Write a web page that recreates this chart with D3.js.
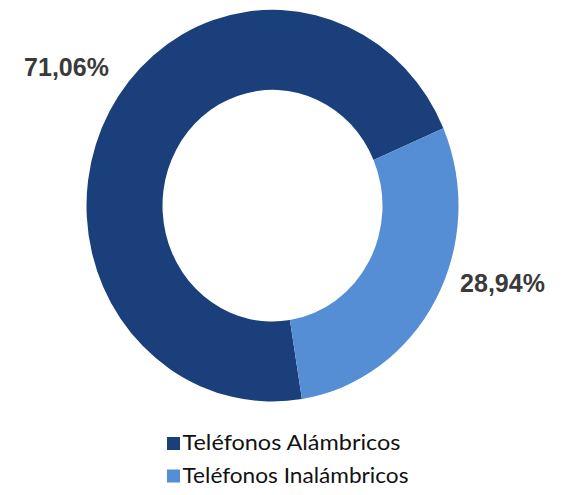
<!DOCTYPE html>
<html><head><meta charset="utf-8">
<script src="https://cdn.jsdelivr.net/npm/d3@7"></script>
<style>html,body{margin:0;padding:0;background:#fff;}</style>
</head><body>
<svg id="c" width="563" height="495"></svg>
<script>
const categories = ["Teléfonos Alámbricos", "Teléfonos Inalámbricos"];
const values = [71.06, 28.94];
const labels = ["71,06%", "28,94%"];
const colors = ["#1B3F7A", "#558ED5"];

const svg = d3.select("#c");
const cx = 272.5, cy = 205.7, R = 186, r = 110, sy = 1.053;
const start = 170.9 * Math.PI / 180;

const pie = d3.pie().sort(null).value(d => d).startAngle(start).endAngle(start + 2 * Math.PI);
const arc = d3.arc().innerRadius(r).outerRadius(R);
const color = d3.scaleOrdinal().domain(categories).range(colors);

const g = svg.append("g").attr("transform", `translate(${cx},${cy}) scale(1,${sy})`);
g.selectAll("path").data(pie(values)).join("path")
  .attr("d", arc)
  .attr("fill", (d, i) => color(categories[i]));

// data labels
const labelPos = [[66.5, 76], [502.5, 291.7]];
svg.selectAll("text.lbl").data(labels).join("text")
  .attr("class", "lbl")
  .attr("x", (d, i) => labelPos[i][0])
  .attr("y", (d, i) => labelPos[i][1])
  .attr("text-anchor", "middle")
  .attr("font-family", "Liberation Sans, Arial, sans-serif")
  .attr("font-weight", "bold")
  .attr("font-size", 25)
  .attr("fill", "#3a3a3a")
  .text(d => d);

// legend
const leg = svg.append("g");
const rows = leg.selectAll("g").data(categories).join("g")
  .attr("transform", (d, i) => `translate(167,${437 + i * 32.5})`);
rows.append("rect").attr("width", 13).attr("height", 13).attr("fill", d => color(d));
rows.append("text")
  .attr("x", 15.5).attr("y", 13)
  .attr("font-family", "Lato, sans-serif")
  .attr("font-size", 21)
  .attr("fill", "#111")
  .attr("textLength", (d, i) => i === 0 ? 218 : 226)
  .attr("lengthAdjust", "spacingAndGlyphs")
  .text(d => d);
</script>
</body></html>
